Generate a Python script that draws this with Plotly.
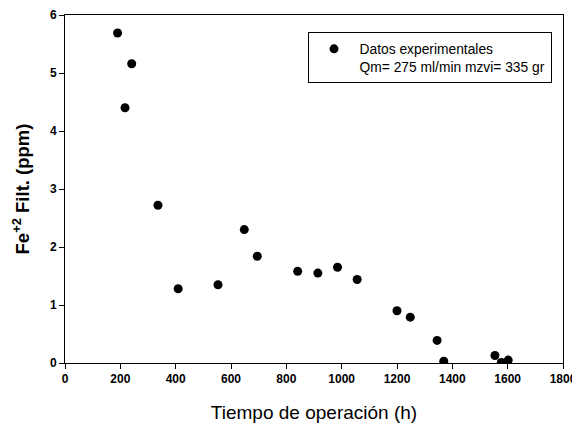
import plotly.graph_objects as go

# Tiempo de operación (h) vs Fe+2 filtrado (ppm)
tiempo_h = [190, 217, 241, 336, 409, 553, 648, 695, 841, 914, 985, 1056,
            1200, 1248, 1345, 1369, 1554, 1577, 1602]
fe2_ppm = [5.69, 4.40, 5.16, 2.72, 1.28, 1.35, 2.30, 1.84, 1.58, 1.55, 1.65, 1.44,
           0.90, 0.79, 0.39, 0.03, 0.13, 0.01, 0.05]

x_ticks = [0, 200, 400, 600, 800, 1000, 1200, 1400, 1600, 1800]
y_ticks = [0, 1, 2, 3, 4, 5, 6]

font_family = "Arial, Liberation Sans, sans-serif"

fig = go.Figure()
fig.add_trace(go.Scatter(
    x=tiempo_h, y=fe2_ppm, mode="markers",
    marker=dict(color="black", size=9),
    name="Datos experimentales<br>Qm= 275 ml/min mzvi= 335 gr",
    showlegend=True,
))

# page body has an 8px margin, so the figure is a bit smaller than the window
fig.update_layout(
    width=572, height=416,
    margin=dict(l=57, r=17, t=7, b=61),
    paper_bgcolor="white", plot_bgcolor="white",
    font=dict(family=font_family, color="black"),
    showlegend=True,
    legend=dict(
        x=0.487, y=0.95, xanchor="left", yanchor="top",
        bordercolor="black", borderwidth=1,
        font=dict(size=13.8, family=font_family, color="black"),
        valign="top", itemwidth=41,
    ),
)

fig.update_xaxes(
    range=[0, 1800], tickvals=x_ticks, automargin=False,
    ticks="outside", ticklen=5, tickcolor="black",
    showline=True, linecolor="black", linewidth=1, mirror=True,
    showgrid=False, zeroline=False,
    tickfont=dict(size=12, weight="bold"),
    title=dict(text="Tiempo de operación (h)", font=dict(size=19), standoff=20),
)
fig.update_yaxes(
    range=[0, 6], tickvals=y_ticks, automargin=False,
    ticks="outside", ticklen=5, tickcolor="black",
    showline=True, linecolor="black", linewidth=1, mirror=True,
    showgrid=False, zeroline=False,
    tickfont=dict(size=12, weight="bold"),
    title=dict(text="<b>Fe<sup>+2</sup> Filt. (ppm)</b>", font=dict(size=18.5), standoff=15),
)

fig.write_html("out.html")
